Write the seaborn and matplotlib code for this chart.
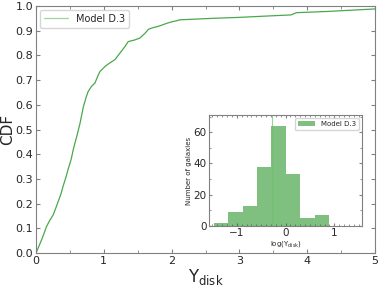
import numpy as np
import pandas as pd
import matplotlib
matplotlib.use("Agg")
import matplotlib.pyplot as plt
import seaborn as sns
from matplotlib.ticker import MultipleLocator

# CDF curve
cdf_x = [0.0, 0.04, 0.084, 0.12, 0.157, 0.2, 0.255, 0.29, 0.33, 0.37, 0.40, 0.44, 0.48, 0.52, 0.55, 0.575,
         0.60, 0.65, 0.70, 0.74, 0.77, 0.82, 0.87, 0.91, 0.944, 1.018, 1.08, 1.165, 1.24, 1.31, 1.36,
         1.45, 1.53, 1.61, 1.66, 1.72, 1.78, 1.85, 1.93, 2.0, 2.07, 2.12, 2.27, 2.6, 3.0, 3.45, 3.76,
         3.84, 4.3, 4.99, 5.3]
cdf_y = [0.0, 0.025, 0.054, 0.08, 0.108, 0.13, 0.155, 0.18, 0.21, 0.24, 0.27, 0.305, 0.344, 0.38, 0.418, 0.445,
         0.47, 0.525, 0.593, 0.63, 0.654, 0.675, 0.688, 0.715, 0.735, 0.755, 0.768, 0.783, 0.81, 0.835, 0.856,
         0.862, 0.87, 0.89, 0.906, 0.912, 0.916, 0.922, 0.93, 0.936, 0.94, 0.944, 0.946, 0.95, 0.954, 0.96, 0.964,
         0.973, 0.978, 0.988, 0.99]

# Inset histogram of log(Y_disk)
bin_edges = [-1.47, -1.175, -0.88, -0.585, -0.29, 0.005, 0.30, 0.595, 0.89]
bin_counts = [2, 9, 13, 38, 64, 33, 5, 7]
median_log = -0.27

label = "Model D.3"

sns.set_style("ticks")
plt.rcParams['font.family'] = ['DejaVu Sans']
plt.rcParams['mathtext.fontset'] = 'dejavusans'

fig = plt.figure(figsize=(3.82, 2.86), dpi=100)
ax = fig.add_axes([0.094, 0.115, 0.888, 0.864])

df = pd.DataFrame({"x": cdf_x, "y": cdf_y})
sns.lineplot(data=df, x="x", y="y", ax=ax, color="#4aa84a", lw=0.9, label=label, estimator=None, sort=False)
ax.set_xlim(0, 5)
ax.set_ylim(0, 1.0)
ax.xaxis.set_major_locator(MultipleLocator(1))
ax.xaxis.set_minor_locator(MultipleLocator(0.5))
ax.set_yticks(np.arange(0, 1.01, 0.1))
ax.set_yticklabels([f"{v:.1f}" for v in np.arange(0, 1.01, 0.1)])
ax.tick_params(which='both', direction='in', top=True, right=True, labelsize=8, length=3, color='gray', pad=2)
ax.tick_params(which='minor', length=2)
for s in ax.spines.values():
    s.set_color('gray')
    s.set_linewidth(0.8)
ax.set_xlabel(r"Y$_{\rm disk}$", fontsize=12, labelpad=1)
ax.set_ylabel("CDF", fontsize=11)
ax.yaxis.set_label_coords(-0.062, 0.5)
leg = ax.legend(loc='upper left', fontsize=7, frameon=True, handlelength=2.5, borderaxespad=0.4)
leg.get_frame().set_edgecolor('#cccccc')
for h in leg.get_lines():
    h.set_color('#9fd49f')

# inset
axi = fig.add_axes([0.547, 0.210, 0.401, 0.388])
centers = [(bin_edges[i] + bin_edges[i + 1]) / 2 for i in range(len(bin_counts))]
hd = pd.DataFrame({"c": centers, "w": bin_counts})
sns.histplot(data=hd, x="c", weights="w", bins=bin_edges, ax=axi, color="green", alpha=0.5,
             edgecolor="none", linewidth=0, label=label)
axi.axvline(median_log, color="#6fc06f", lw=0.8, alpha=0.7)
axi.set_xlim(-1.57, 1.57)
axi.set_ylim(0, 71)
axi.xaxis.set_major_locator(MultipleLocator(1))
axi.xaxis.set_minor_locator(MultipleLocator(0.1))
axi.yaxis.set_major_locator(MultipleLocator(20))
axi.yaxis.set_minor_locator(MultipleLocator(10))
axi.tick_params(which='both', direction='in', top=True, right=True, labelsize=7.5, length=2.5, color='gray', pad=1.5)
axi.tick_params(which='minor', length=1.5)
for s in axi.spines.values():
    s.set_color('gray')
    s.set_linewidth(0.8)
axi.set_xlabel(r"log(Y$_{\rm disk}$)", fontsize=5, labelpad=1)
axi.set_ylabel("Number of galaxies", fontsize=5, labelpad=1)
legi = axi.legend(loc='upper right', fontsize=5, frameon=True, handlelength=2.5)
legi.get_frame().set_edgecolor('#cccccc')

fig.savefig("out.png", dpi=100)
